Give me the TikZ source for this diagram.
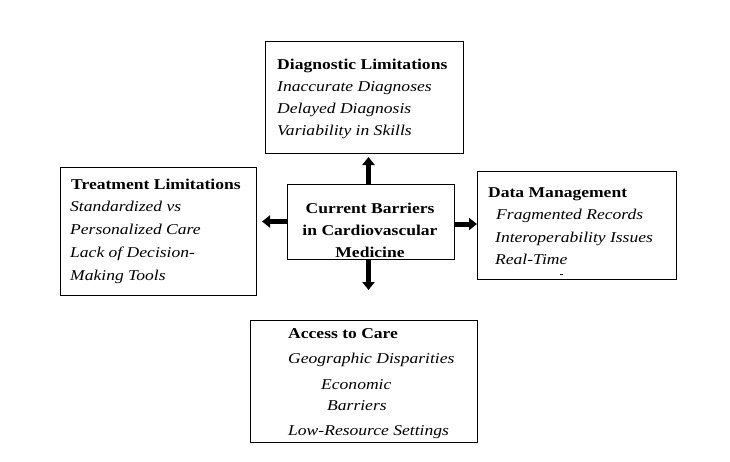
\documentclass[tikz,border=0pt]{standalone}
\usepackage{fontspec}
\setmainfont{Liberation Serif}[FakeStretch=1.17]
\usetikzlibrary{arrows.meta}
\begin{document}
\begin{tikzpicture}[x=1pt,y=-1pt,
  box/.style={draw, line width=0.9pt, inner sep=0pt},
  ln/.style={anchor=base west, inner sep=0pt, font=\fontsize{15}{18}\selectfont\itshape},
  hd/.style={anchor=base west, inner sep=0pt, font=\fontsize{15}{18}\selectfont\bfseries},
  ctr/.style={anchor=base, inner sep=0pt, font=\fontsize{15}{18}\selectfont\bfseries},
  blk/.style={line width=5pt, -{Triangle[length=8pt,width=12pt]}}]
\useasboundingbox (0,0) rectangle (730,461);
% boxes
\node[box, minimum width=198pt, minimum height=112pt] (diag) at (364,97) {};
\node[box, minimum width=196pt, minimum height=128pt] (treat) at (158,231) {};
\node[box, minimum width=167pt, minimum height=75pt] (center) at (370.5,221.5) {};
\node[box, minimum width=199pt, minimum height=108pt] (data) at (576.5,225) {};
\node[box, minimum width=227pt, minimum height=122pt] (access) at (363.5,381) {};
% top box text
\node[hd] (d1) at (277,69) {Diagnostic Limitations};
\node[ln] (d2) at (277,91) {Inaccurate Diagnoses};
\node[ln] (d3) at (277,113) {Delayed Diagnosis};
\node[ln] (d4) at (277,135) {Variability in Skills};
% left box text
\node[hd] (t1) at (71,189) {Treatment Limitations};
\node[ln] (t2) at (70,211) {Standardized vs};
\node[ln] (t3) at (70,234) {Personalized Care};
\node[ln] (t4) at (70,257) {Lack of Decision-};
\node[ln] (t5) at (70,280) {Making Tools};
% center text
\node[ctr] (c1) at (370,213) {Current Barriers};
\node[ctr] (c2) at (370,235) {in Cardiovascular};
\node[ctr] (c3) at (370,257) {Medicine};
% right box text
\node[hd] (r1) at (488,197) {Data Management};
\node[ln] (r2) at (496,219) {Fragmented Records};
\node[ln] (r3) at (495,242) {Interoperability Issues};
\node[ln] (r4) at (495,264) {Real-Time};
\fill (560,273.5) rectangle (563,274.5);
% bottom box text
\node[hd] (a1) at (288,338) {Access to Care};
\node[ln] (a2) at (288,363) {Geographic Disparities};
\node[ln] (a3) at (321,389) {Economic};
\node[ln] (a4) at (327,410) {Barriers};
\node[ln] (a5) at (288,435) {Low-Resource Settings};
% arrows
\coordinate (tipU) at (368.5,157);
\coordinate (tipL) at (262,221.5);
\coordinate (tipR) at (477,224);
\coordinate (tipD) at (368.5,290);
\draw[blk] (368.5,184) -- (tipU);
\draw[blk] (287,221.5) -- (tipL);
\draw[blk] (454,224) -- (tipR);
\draw[blk] (368.5,259) -- (tipD);
\end{tikzpicture}
\end{document}
